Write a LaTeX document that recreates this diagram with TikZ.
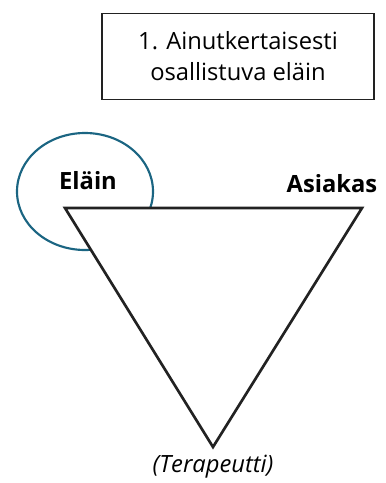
\documentclass[tikz,border=0pt]{standalone}
\usepackage{fontspec}
\setmainfont{Open Sans}
\definecolor{petrol}{HTML}{1B6582}
\definecolor{viiva}{HTML}{222222}
\begin{document}
\begin{tikzpicture}[x=0.75pt,y=-0.75pt,
    otsikko/.style={draw=viiva,line width=0.8pt,minimum width=204pt,minimum height=64pt,
      align=center,font=\fontsize{17.8}{23.3}\selectfont,inner sep=0pt},
    kulma/.style={font=\fontsize{17.8}{20}\selectfont\bfseries,inner sep=0pt}]
  \useasboundingbox (0,0) rectangle (386,483);

  \node[otsikko] (otsikko) at (238,56.5){1. Ainutkertaisesti\\osallistuva eläin};

  \draw[petrol,line width=1.6pt] (85,191.5) ellipse (68 and 58.5);

  \coordinate (vasen) at (65,208);
  \coordinate (oikea) at (362,208);
  \coordinate (ala) at (213,447);
  \draw[viiva,fill=white,line width=2pt,line join=miter] (vasen) -- (oikea) -- (ala) -- cycle;

  \node[kulma] (elain) at (88,181){Eläin};
  \node[kulma] (asiakas) at (332,184){Asiakas};
  \node[font=\fontsize{17.8}{20}\selectfont\itshape,inner sep=0pt] (terapeutti) at (213,467){(Terapeutti)};
\end{tikzpicture}
\end{document}
